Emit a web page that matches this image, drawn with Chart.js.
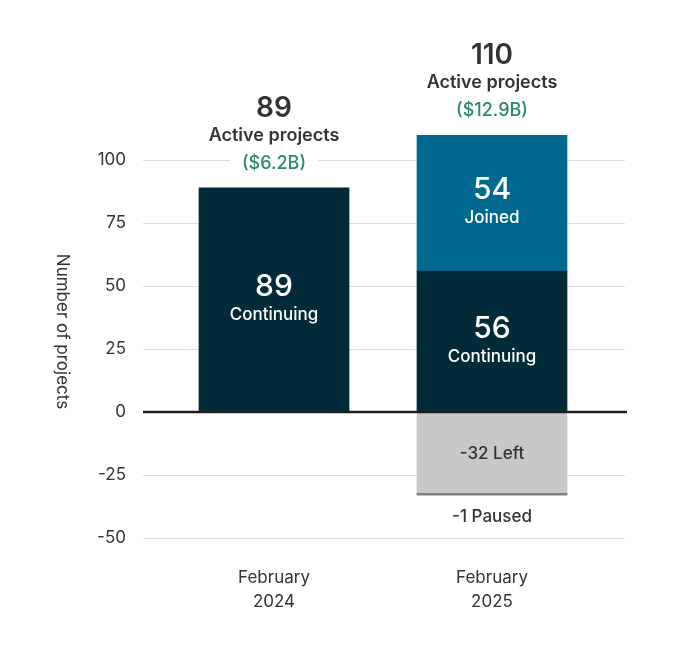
<!DOCTYPE html>
<html>
<head>
<meta charset="utf-8">
<script src="https://cdn.jsdelivr.net/npm/chart.js@4"></script>
<style>
  html, body { margin: 0; padding: 0; background: #fff; }
  #wrap { width: 695px; height: 652px; }
</style>
</head>
<body>
<div id="wrap"><canvas id="chart" width="695" height="652"></canvas></div>
<script>
// --- data ---
const categories = [["February", "2024"], ["February", "2025"]];
const continuing = [89, 56];
const joined = [null, 54];
const left = [null, -32];
const paused = [null, -1];
const totals = [89, 110];
const funding = ["($6.2B)", "($12.9B)"];
const yTicks = [-50, -25, 0, 25, 50, 75, 100];

const FONT = "Inter, 'Liberation Sans', sans-serif";
const TEXT = "#333333";
const NAVY = "#022b3a";
const BLUE = "#01698f";
const GREY = "#c8c8c8";
const PAUSE = "#808080";
const GREEN = "#2b8a66";

// gridlines run a bit wider than the category band
const gridPlugin = {
    id: "wideGrid",
    beforeDatasetsDraw(chart) {
        const { ctx, scales: { y } } = chart;
        ctx.save();
        ctx.strokeStyle = "#dcdcdc";
        ctx.lineWidth = 1;
        yTicks.forEach(v => {
            if (v === 0) return;
            const py = Math.round(y.getPixelForValue(v)) + 0.5;
            ctx.beginPath();
            ctx.moveTo(143, py);
            ctx.lineTo(625, py);
            ctx.stroke();
        });
        ctx.restore();
    },
    afterDatasetsDraw(chart) {
        const { ctx, scales: { y } } = chart;
        const py = y.getPixelForValue(0);
        ctx.save();
        ctx.strokeStyle = "#1e1e1e";
        ctx.lineWidth = 2.5;
        ctx.beginPath();
        ctx.moveTo(143, py);
        ctx.lineTo(627, py);
        ctx.stroke();
        ctx.restore();
    }
};

// labels inside / above / below the bars
const labelPlugin = {
    id: "barLabels",
    afterDatasetsDraw(chart) {
        const { ctx } = chart;
        ctx.save();
        ctx.textAlign = "center";
        ctx.textBaseline = "middle";

        const inBar = (dsIndex, i, value, name) => {
            const el = chart.getDatasetMeta(dsIndex).data[i];
            const cy = (el.y + el.base) / 2;
            ctx.fillStyle = "#ffffff";
            ctx.font = "500 30px " + FONT;
            ctx.fillText(String(value), el.x, cy - 13);
            ctx.font = "500 17px " + FONT;
            ctx.fillText(name, el.x, cy + 15);
        };
        continuing.forEach((v, i) => { if (v) inBar(0, i, v, "Continuing"); });
        joined.forEach((v, i) => { if (v) inBar(1, i, v, "Joined"); });

        left.forEach((v, i) => {
            if (!v) return;
            const el = chart.getDatasetMeta(2).data[i];
            ctx.fillStyle = TEXT;
            ctx.font = "500 17px " + FONT;
            ctx.fillText(v + " Left", el.x, (el.y + el.base) / 2 + 2);
        });
        paused.forEach((v, i) => {
            if (!v) return;
            const el = chart.getDatasetMeta(3).data[i];
            ctx.fillStyle = TEXT;
            ctx.font = "500 17px " + FONT;
            ctx.fillText(v + " Paused", el.x, el.y + 22);
        });

        // totals on top of each bar
        totals.forEach((t, i) => {
            const metaTop = chart.getDatasetMeta(joined[i] ? 1 : 0).data[i];
            const x = metaTop.x, top = metaTop.y;
            ctx.fillStyle = TEXT;
            ctx.font = "600 28px " + FONT;
            ctx.fillText(String(t), x, top - 79);
            ctx.font = "600 18px " + FONT;
            ctx.fillText("Active projects", x, top - 52);
            ctx.font = "500 18px " + FONT;
            const w = ctx.measureText(funding[i]).width;
            ctx.fillStyle = "#ffffff";
            ctx.fillRect(x - w / 2 - 12, top - 24 - 10, w + 24, 20);
            ctx.fillStyle = GREEN;
            ctx.fillText(funding[i], x, top - 24);
        });
        ctx.restore();
    }
};

// y title reads top-to-bottom
const yTitlePlugin = {
    id: "yTitle",
    afterDraw(chart) {
        const { ctx, chartArea } = chart;
        ctx.save();
        ctx.translate(62, (chartArea.top + chartArea.bottom) / 2 - 5);
        ctx.rotate(Math.PI / 2);
        ctx.textAlign = "center";
        ctx.textBaseline = "middle";
        ctx.fillStyle = TEXT;
        ctx.font = "400 17px " + FONT;
        ctx.fillText("Number of projects", 0, 0);
        ctx.restore();
    }
};

new Chart(document.getElementById("chart"), {
    type: "bar",
    data: {
        labels: categories,
        datasets: [
            { label: "Continuing", data: continuing, backgroundColor: NAVY },
            { label: "Joined", data: joined, backgroundColor: BLUE },
            { label: "Left", data: left, backgroundColor: GREY },
            { label: "Paused", data: paused, backgroundColor: PAUSE }
        ]
    },
    options: {
        responsive: false,
        animation: false,
        layout: { padding: { top: 135, right: 94, bottom: 0, left: 0 } },
        datasets: { bar: { barThickness: 150, borderWidth: 0 } },
        plugins: { legend: { display: false }, tooltip: { enabled: false } },
        scales: {
            x: {
                stacked: true,
                grid: { display: false, drawTicks: false },
                border: { display: false },
                ticks: {
                    color: TEXT,
                    padding: 28,
                    font: { family: FONT, size: 17, lineHeight: 1.4 }
                },
                afterFit(scale) { scale.height = 114; }
            },
            y: {
                stacked: true,
                min: -50,
                max: 110,
                grid: { display: false, drawTicks: false },
                border: { display: false },
                afterBuildTicks(scale) {
                    scale.ticks = yTicks.map(v => ({ value: v }));
                },
                ticks: {
                    color: TEXT,
                    padding: 39,
                    font: { family: FONT, size: 17 }
                },
                afterFit(scale) { scale.width = 165; }
            }
        }
    },
    plugins: [gridPlugin, labelPlugin, yTitlePlugin]
});
</script>
</body>
</html>
